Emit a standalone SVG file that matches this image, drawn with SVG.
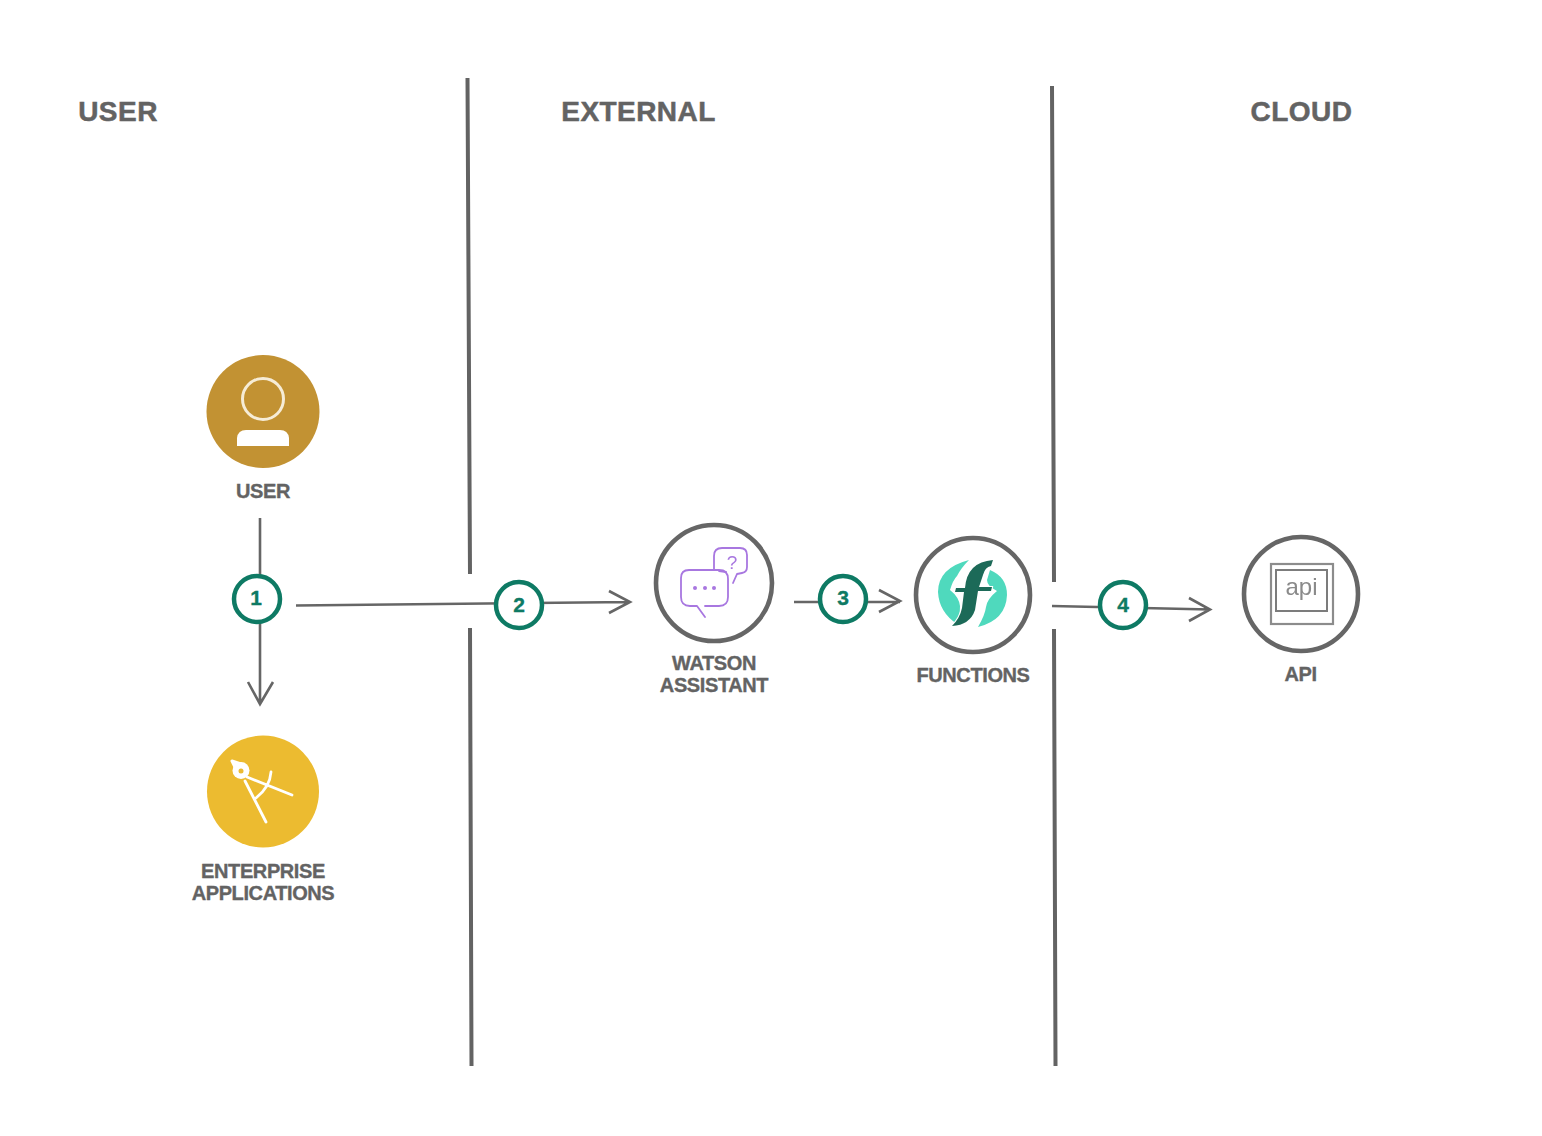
<svg xmlns="http://www.w3.org/2000/svg" width="1542" height="1136" viewBox="0 0 1542 1136">
<defs><filter id="soft" x="-10%" y="-10%" width="120%" height="120%"><feGaussianBlur stdDeviation="0.45"/></filter></defs>
<style>
text{font-family:"Liberation Sans",Arial,sans-serif;font-weight:700;fill:#636363;text-anchor:middle;stroke:#636363;stroke-width:.35px}
.h{font-size:28px;letter-spacing:.45px;stroke-width:.5px}
.l{font-size:20px;letter-spacing:-.4px}
.div{fill:none;stroke:#636363;stroke-width:4}
.con{fill:none;stroke:#666;stroke-width:2.6}
.ring{fill:#fff;stroke:#666;stroke-width:4.6}
.badge{fill:#fff;stroke:#0e7a64;stroke-width:4.5}
.n{font-size:21px;fill:#0e7a64;stroke:#0e7a64}
.pur{fill:none;stroke:#a877e0;stroke-width:1.8;stroke-linejoin:round;stroke-linecap:round}
.icon{filter:url(#soft)}
</style>
<rect width="1542" height="1136" fill="#fff"/>
<g id="dividers">
<path class="div" d="M467.500 78L470 574M470 628L471.500 1066"/>
<path class="div" d="M1052 86L1054 582M1054 629L1055.500 1066"/>
</g>
<g id="headers">
<text class="h" x="118" y="121">USER</text>
<text class="h" x="638.500" y="121">EXTERNAL</text>
<text class="h" x="1301.500" y="121">CLOUD</text>
</g>
<g id="connectors">
<path class="con" d="M260 518V704M248 682L260 704L273 682"/>
<path class="con" d="M296 605.500L630 602M609 591L630 602L609 613"/>
<path class="con" d="M794 602H900M879 590L900 601L879 612"/>
<path class="con" d="M1052 606L1210 609.500M1189 598L1210 609.500L1189 621"/>
</g>
<g id="node-user">
<circle cx="263" cy="411.500" r="56.500" fill="#c29233"/>
<g class="icon">
<circle cx="263" cy="399" r="20.500" fill="none" stroke="#f6ecd6" stroke-width="3"/>
<path d="M237 446V438Q238 430 246 430H280Q288 430 289 438V446Z" fill="#fff"/>
</g>
<text class="l" x="263" y="498">USER</text>
</g>
<g id="node-enterprise">
<circle cx="263" cy="791.500" r="56" fill="#ecbb30"/>
<g class="icon">
<g fill="none" stroke="#fff" stroke-width="2.800" stroke-linecap="round">
<path d="M247 777L292 795M245 781L266 822M271 772Q270 787 256 798"/>
</g>
<circle cx="241" cy="770.500" r="8.500" fill="#fff"/>
<path d="M232 761L241 764L236 769Z" fill="#fff" stroke="#fff" stroke-width="3" stroke-linejoin="round"/>
<circle cx="241" cy="771" r="2.500" fill="#ecbb30"/>
</g>
<text class="l" x="263" y="878">ENTERPRISE</text>
<text class="l" x="263" y="900">APPLICATIONS</text>
</g>
<g id="node-watson">
<circle class="ring" cx="714" cy="583" r="58"/>
<g class="icon">
<path class="pur" d="M714 569V556Q714 548 722 548H740Q747 548 747 555V567Q747 572 742 573L737 574L733 583M726 572L719 571"/>
<path class="pur" d="M705 606H719Q728 606 728 597V579Q728 570 719 570H689Q681 570 681 578V597Q681 606 690 606H697L705 617"/>
<g fill="#a877e0"><circle cx="695" cy="588" r="2"/><circle cx="705" cy="588" r="2"/><circle cx="714" cy="588" r="2"/></g>
<text x="732" y="569" style="font-size:19px;font-weight:400;fill:#a877e0;stroke:none">?</text>
</g>
<text class="l" x="714" y="670">WATSON</text>
<text class="l" x="714" y="692">ASSISTANT</text>
</g>
<g id="node-functions">
<circle class="ring" cx="973" cy="595" r="57"/>
<g class="icon">
<path d="M969 560Q938 568 938 592Q939 612 957 624Q960 616 960 606Q959 597 950 590Q953 580 957 576Q961 568 969 560Z" fill="#4fd9bd"/>
<path d="M990 570Q1007 577 1007 595Q1006 620 978 627Q985 615 986 607Q987 599 997 591Q987 586 987 580Z" fill="#4fd9bd"/>
<path d="M993 560L991 566Q985 567 983 575L979 587H992L991 591H978L975 610Q970 625 952 626Q960 618 962 608L964 592H955L956 588H965Q967 562 993 560Z" fill="#1f6a59" stroke="#fff" stroke-width="2" paint-order="stroke"/>
</g>
<text class="l" x="973" y="682">FUNCTIONS</text>
</g>
<g id="node-api">
<circle class="ring" cx="1301" cy="594" r="57"/>
<g class="icon">
<rect x="1271" y="564" width="62" height="60" fill="#fff" stroke="#8c8c8c" stroke-width="2.200"/>
<rect x="1276" y="570" width="51" height="41" fill="#fff" stroke="#7c7c7c" stroke-width="2"/>
<text x="1301.500" y="595" style="font-size:24px;font-weight:400;fill:#8a8a8a;stroke:none">api</text>
</g>
<text class="l" x="1300.500" y="681">API</text>
</g>
<g id="step-1"><circle class="badge" cx="257" cy="599" r="23"/><text class="n" x="256" y="605">1</text></g>
<g id="step-2"><circle class="badge" cx="519" cy="605" r="23"/><text class="n" x="519" y="612">2</text></g>
<g id="step-3"><circle class="badge" cx="843" cy="599" r="23"/><text class="n" x="843" y="605">3</text></g>
<g id="step-4"><circle class="badge" cx="1123" cy="605" r="23"/><text class="n" x="1123" y="612">4</text></g>
</svg>
